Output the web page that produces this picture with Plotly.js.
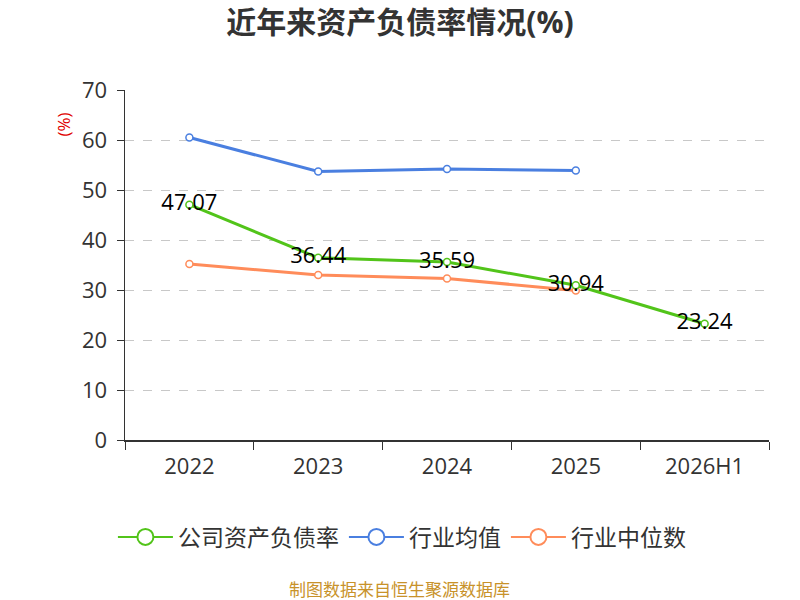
<!DOCTYPE html>
<html>
<head>
<meta charset="utf-8">
<script src="https://cdn.plot.ly/plotly-3.0.1.min.js"></script>
<style>
  html, body { margin: 0; padding: 0; background: #fff; }
  #chart { width: 800px; height: 600px; }
</style>
</head>
<body>
<div id="chart"></div>
<script>
const years = ['2022', '2023', '2024', '2025', '2026H1'];
const companyRatio = [47.07, 36.44, 35.59, 30.94, 23.24];
const industryMean = [60.5, 53.7, 54.2, 53.9, null];
const industryMedian = [35.2, 33.0, 32.3, 29.9, null];
const yTicks = [0, 10, 20, 30, 40, 50, 60, 70];

const FONT = '"Open Sans", "Noto Sans CJK SC", sans-serif';
const GREEN = '#52c41a', BLUE = '#4a7fe0', ORANGE = '#ff8c5a';

function lineTrace(y, color, name, withText){
  let t = {
    x: years,
    y: y,
    type: 'scatter',
    mode: withText ? 'lines+markers+text' : 'lines+markers',
    name: name,
    showlegend: false,
    line: {color: color, width: 3},
    marker: {size: 7, color: '#fff', line: {color: color, width: 1.5}},
    cliponaxis: false,
    hoverinfo: 'skip'
  };
  if (withText){
    t.text = y.map(v => v.toFixed(2));
    t.textposition = 'middle center';
    t.textfont = {family: FONT, size: 22, color: '#000'};
  }
  return t;
}

function legendTrace(color, name){
  return {
    x: [null], y: [null],
    type: 'scatter',
    mode: 'lines+markers',
    name: name,
    line: {color: color, width: 2},
    marker: {size: 16, color: '#fff', line: {color: color, width: 2}}
  };
}

let data = [
  lineTrace(industryMedian, ORANGE, '行业中位数', false),
  lineTrace(industryMean, BLUE, '行业均值', false),
  lineTrace(companyRatio, GREEN, '公司资产负债率', true),
  legendTrace(GREEN, '公司资产负债率'),
  legendTrace(BLUE, '行业均值'),
  legendTrace(ORANGE, '行业中位数')
];

let layout = {
  width: 800,
  height: 600,
  margin: {l: 125, r: 31, t: 90, b: 160},
  paper_bgcolor: '#fff',
  plot_bgcolor: '#fff',
  font: {family: FONT, color: '#333'},
  showlegend: true,
  title: {
    text: '<b>近年来资产负债率情况(%)</b>',
    font: {family: FONT, size: 30, color: '#333'},
    x: 0.5, xanchor: 'center',
    y: 0.963, yanchor: 'middle'
  },
  xaxis: {
    type: 'category',
    range: [-0.5, 4.5],
    autorange: false,
    tickson: 'boundaries',
    ticks: 'outside',
    ticklen: 8,
    tickcolor: '#333',
    showline: true,
    linecolor: '#333',
    linewidth: 1.5,
    showgrid: false,
    ticklabelstandoff: 6,
    tickfont: {family: FONT, size: 22, color: '#333'},
    fixedrange: true
  },
  yaxis: {
    range: [0, 70],
    autorange: false,
    tickvals: yTicks,
    ticks: 'outside',
    ticklen: 7,
    tickcolor: '#333',
    showline: true,
    linecolor: '#333',
    linewidth: 1.5,
    showgrid: true,
    gridcolor: '#c8c8c8',
    griddash: 'dash',
    gridwidth: 1,
    zeroline: false,
    ticklabelstandoff: 5,
    tickfont: {family: FONT, size: 22, color: '#333'},
    fixedrange: true
  },
  legend: {
    orientation: 'h',
    x: 0.43, xanchor: 'center',
    y: -0.277, yanchor: 'middle',
    font: {family: FONT, size: 23, color: '#333'},
    itemwidth: 55,
    traceorder: 'normal'
  },
  annotations: [
    {
      text: '(%)',
      textangle: -90,
      xref: 'paper', yref: 'paper',
      x: -0.097, y: 0.9,
      xanchor: 'center', yanchor: 'middle',
      showarrow: false,
      font: {family: FONT, size: 17, color: '#e00000'}
    },
    {
      text: '制图数据来自恒生聚源数据库',
      xref: 'paper', yref: 'paper',
      x: 0.427, y: -0.427,
      xanchor: 'center', yanchor: 'middle',
      showarrow: false,
      font: {family: FONT, size: 17, color: '#c8922a'}
    }
  ]
};

Plotly.newPlot('chart', data, layout, {displayModeBar: false, staticPlot: true});
</script>
</body>
</html>
